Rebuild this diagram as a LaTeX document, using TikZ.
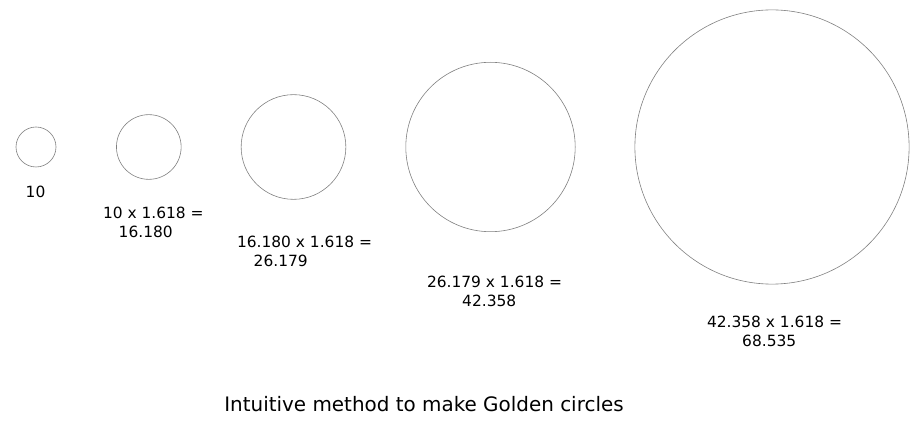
\documentclass[tikz,border=0pt]{standalone}
\usepackage{fontspec}
\setmainfont{DejaVu Sans}
\usetikzlibrary{positioning}
\newcommand{\Gratio}{1.618}
\tikzstyle{gcircle} = [circle,draw=black!50,line width=0.6bp,inner sep=0pt]
\tikzstyle{glabel} = [anchor=base west,inner sep=0pt,font=\fontsize{15.5}{18}\selectfont]

\begin{document}
\begin{tikzpicture}[x=1bp,y=-1bp]
\useasboundingbox (0,0) rectangle (919,438);

% Define nodes
\node[gcircle, minimum size=40bp]     (c1) at (36,147)    {};
\node[gcircle, minimum size=64.7bp]   (c2) at (148.8,147) {};
\node[gcircle, minimum size=104.7bp]  (c3) at (293.5,147) {};
\node[gcircle, minimum size=169.4bp]  (c4) at (490.5,147) {};
\node[gcircle, minimum size=274.2bp]  (c5) at (772,147)   {};

% Labels
\node[glabel] (l1)  at (25.5,198)  {10};
\node[glabel] (l2a) at (102.8,218.5) {10 x \Gratio{} =};
\node[glabel] (l2b) at (118.5,237.5) {16.180};
\node[glabel] (l3a) at (236.8,248) {16.180 x \Gratio{} =};
\node[glabel] (l3b) at (253.5,267) {26.179};
\node[glabel] (l4a) at (426.8,288) {26.179 x \Gratio{} =};
\node[glabel] (l4b) at (462,307)   {42.358};
\node[glabel] (l5a) at (706.8,328) {42.358 x \Gratio{} =};
\node[glabel] (l5b) at (742,347)   {68.535};

\node[anchor=base, inner sep=0pt, font=\fontsize{20}{24}\selectfont] (title) at (424,411) {Intuitive method to make Golden circles};
\end{tikzpicture}
\end{document}
